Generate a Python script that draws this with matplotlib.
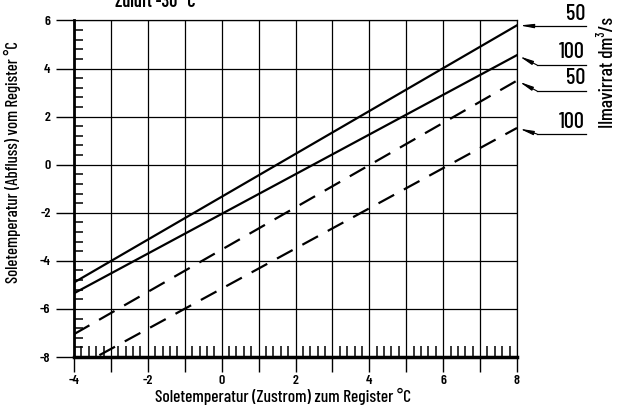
import matplotlib
matplotlib.use("Agg")
import matplotlib.pyplot as plt
from matplotlib.ticker import MultipleLocator
from matplotlib.lines import Line2D
from matplotlib import font_manager

# ---- data ----
x_ends = [-4, 8]
solid_50 = [-4.9, 5.8]
solid_100 = [-5.35, 4.56]
dashed_50 = [-7.05, 3.5]
dashed_100 = [-8.5, 1.53]
flow_labels = ["50", "100", "50", "100"]
x_ticks = list(range(-4, 9))
x_tick_labels = ["-4", "", "-2", "", "0", "", "2", "", "4", "", "6", "", "8"]
y_ticks = list(range(-8, 7, 2))
y_tick_labels = ["-8", "-6", "-4", "-2", "0", "2", "4", "6"]

names = {f.name for f in font_manager.fontManager.ttflist}
fam = "DejaVu Sans"
for cand in ["Barlow Condensed", "Roboto Condensed", "Fira Sans Condensed"]:
    if cand in names:
        fam = cand
        break
plt.rcParams["font.family"] = [fam, "DejaVu Sans"]
plt.rcParams["font.weight"] = 500

W, H = 624, 412
fig = plt.figure(figsize=(W / 100, H / 100), dpi=100)
ax = fig.add_axes([74 / W, 55 / H, 443 / W, 336.5 / H])
ax.set_xlim(-4, 8)
ax.set_ylim(-8, 6)

ax.set_xticks(x_ticks)
ax.set_xticklabels(x_tick_labels, fontsize=10, fontweight=600)
ax.set_yticks(y_ticks)
ax.set_yticklabels(y_tick_labels, fontsize=10, fontweight=600)
ax.xaxis.set_minor_locator(MultipleLocator(0.2))
ax.yaxis.set_minor_locator(MultipleLocator(0.4))
ax.tick_params(axis="x", which="major", direction="out", length=11, width=1.0, pad=2)
ax.tick_params(axis="y", which="major", direction="out", length=13, width=1.0, pad=4)
ax.tick_params(axis="x", which="minor", direction="in", length=8, width=1.1)
ax.tick_params(axis="y", which="minor", direction="in", length=6.5, width=1.1)
ax.grid(True, which="major", color="black", lw=0.9)
ax.set_axisbelow(False)
for s in ["top", "right"]:
    ax.spines[s].set_linewidth(0.9)
ax.spines["left"].set_linewidth(2.0)
ax.spines["bottom"].set_linewidth(2.5)

lw = 1.6
ax.plot(x_ends, solid_50, color="black", lw=lw)
ax.plot(x_ends, solid_100, color="black", lw=lw)
ax.plot(x_ends, dashed_50, color="black", lw=lw, dashes=(8, 5))
ax.plot(x_ends, dashed_100, color="black", lw=lw, dashes=(8, 5))

# annotations at line ends
series = [solid_50, solid_100, dashed_50, dashed_100]
knees = [(533, 26), (537, 65), (537, 91), (537, 134)]
for ser, (kx, ky), lab in zip(series, knees, flow_labels):
    fx, fy = kx / W, 1 - ky / H
    ax.annotate("", xy=(8, ser[1]), xycoords="data", xytext=(fx, fy),
                textcoords="figure fraction", annotation_clip=False,
                arrowprops=dict(arrowstyle="-|>,head_length=0.8,head_width=0.12",
                                lw=0.8, color="black", shrinkA=0, shrinkB=2))
    fig.add_artist(Line2D([fx, 586 / W], [fy, fy], transform=fig.transFigure,
                          color="black", lw=0.9))
    fig.text(585 / W, 1 - (ky - 2.5) / H, lab, ha="right", va="bottom", fontsize=16)

fig.text(608 / W, 1 - 72 / H, "Ilmavirrat dm³/s", rotation=90, ha="center",
         va="center", fontsize=14)
fig.text(12 / W, 1 - 162 / H, "Soletemperatur (Abfluss) vom Register °C",
         rotation=90, ha="center", va="center", fontsize=12)
fig.text(283 / W, 1 - 396 / H, "Soletemperatur (Zustrom) zum Register °C",
         ha="center", va="center", fontsize=12.5)
fig.text(155 / W, 1 - 7 / H, "Zuluft -30 °C", ha="center", va="baseline",
         fontsize=13, fontweight=600)

fig.savefig("out.png", dpi=100)
